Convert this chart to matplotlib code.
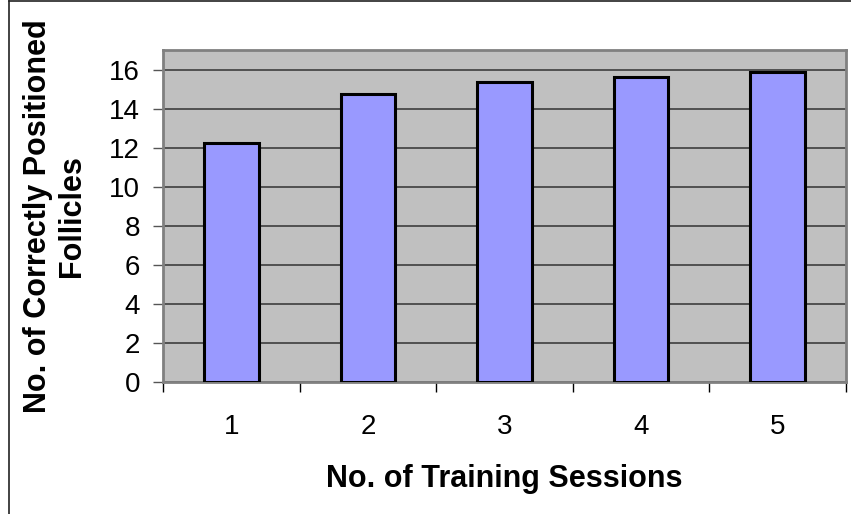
import matplotlib
matplotlib.use("Agg")
import matplotlib.pyplot as plt
from matplotlib.lines import Line2D
from matplotlib.ticker import FixedLocator

plt.rcParams['font.family'] = ['Liberation Sans', 'DejaVu Sans']

sessions = [1, 2, 3, 4, 5]
session_labels = ["1", "2", "3", "4", "5"]
follicles = [12.24, 14.75, 15.37, 15.6, 15.86]
y_ticks = [0, 2, 4, 6, 8, 10, 12, 14, 16]

W, H = 851, 514
fig = plt.figure(figsize=(W / 100, H / 100), dpi=100)
fig.patch.set_facecolor('white')

ax = fig.add_axes([163 / W, 1 - 382 / H, (846 - 163) / W, (382 - 50) / H])
ax.set_facecolor('#C0C0C0')

ax.bar(sessions, follicles, width=0.4, color='#9999FF',
       edgecolor='black', linewidth=2.2, zorder=3)

ax.set_xlim(0.5, 5.5)
ax.set_ylim(0, 17)

ax.set_yticks(y_ticks)
ax.set_yticklabels([str(v) for v in y_ticks])
ax.yaxis.grid(True, color='#333333', linewidth=1.1, zorder=1)
ax.set_axisbelow(True)

ax.set_xticks(sessions)
ax.set_xticklabels(session_labels)
ax.xaxis.set_minor_locator(FixedLocator([s - 0.5 for s in sessions] + [sessions[-1] + 0.5]))

ax.tick_params(axis='x', which='major', length=0, pad=23, labelsize=20)
ax.tick_params(axis='x', which='minor', length=7.5, width=1, color='black', direction='out')
ax.tick_params(axis='y', length=7.5, width=1, color='#555555', pad=9, labelsize=20)

for side in ['left', 'right', 'top', 'bottom']:
    ax.spines[side].set_color('#808080')
    ax.spines[side].set_linewidth(2)

ax.set_xlabel("No. of Training Sessions", fontsize=22, fontweight='bold', labelpad=17)
ax.set_ylabel("No. of Correctly Positioned\nFollicles", fontsize=22, fontweight='bold',
              labelpad=16, linespacing=1.15)

# outer chart frame (left and top edges)
fig.add_artist(Line2D([8.5 / W, 8.5 / W], [0, 1 - 1 / H], transform=fig.transFigure,
                      color='#222222', linewidth=1.2))
fig.add_artist(Line2D([8.5 / W, 1], [1 - 1 / H, 1 - 1 / H], transform=fig.transFigure,
                      color='#222222', linewidth=1.2))

fig.savefig("out.png", dpi=100)
